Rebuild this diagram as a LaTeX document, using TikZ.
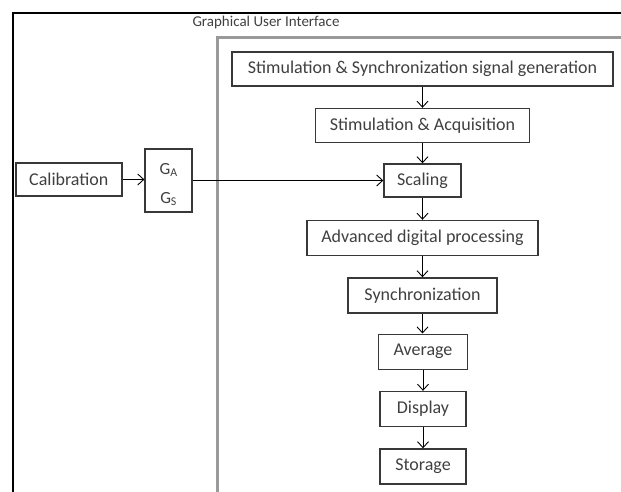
\documentclass[tikz,border=0pt]{standalone}
\usepackage{fontspec}
\setmainfont{Carlito}
\usetikzlibrary{arrows.meta}
\definecolor{boxline}{HTML}{383838}
\definecolor{guigray}{HTML}{9A9A9A}
\definecolor{txt}{HTML}{404040}
\tikzset{
  blk/.style={draw=boxline, line width=1.4pt, text=txt, font=\fontsize{18}{20}\selectfont, inner sep=0pt, anchor=center},
  lbl/.style={text=txt, font=\fontsize{17}{19}\selectfont, inner sep=0pt},
  arr/.style={draw=black, line width=0.9pt, -{Straight Barb[length=6pt,width=11pt,line width=0.9pt]}}
}
\begin{document}
\begin{tikzpicture}[x=1pt,y=-1pt]
\useasboundingbox (0,0) rectangle (621,492);
\fill[white] (0,0) rectangle (621,492);
% outer frame (runs off the right and bottom edges)
\draw[black, line width=1.5pt] (13,496) -- (13,13) -- (625,13);
% GUI frame
\draw[guigray, line width=2.2pt] (217.5,496) -- (217.5,37.5) -- (625,37.5);
\node[text=txt, font=\fontsize{15}{17}\selectfont, anchor=center] (gui) at (266,23) {Graphical User Interface};
% boxes
\node[blk, minimum width=381pt, minimum height=34pt] (sig) at (422.5,69) {Stimulation \& Synchronization signal generation};
\node[blk, minimum width=214pt, minimum height=34pt] (acq) at (422.5,125.5) {Stimulation \& Acquisition};
\node[blk, minimum width=77pt, minimum height=33pt] (scal) at (422.5,180.5) {Scaling};
\node[blk, minimum width=231pt, minimum height=35pt] (adv) at (422.5,238) {Advanced digital processing};
\node[blk, minimum width=149pt, minimum height=35pt] (sync) at (422.5,295.5) {Synchronization};
\node[blk, minimum width=89pt, minimum height=35pt] (avg) at (423,351.7) {Average};
\node[blk, minimum width=86pt, minimum height=35pt] (disp) at (423,409) {Display};
\node[blk, minimum width=86pt, minimum height=35pt] (stor) at (423,466.5) {Storage};
\node[blk, minimum width=106pt, minimum height=33pt] (cal) at (68.8,179.5) {Calibration};
\node[blk, minimum width=47pt, minimum height=63pt] (g) at (168.6,180.5) {};
\node[lbl] (ga) at (168.6,170) {G\textsubscript{A}};
\node[lbl] (gs) at (168.6,199) {G\textsubscript{S}};
% connectors
\draw[arr] (sig.south -| acq.north) -- (acq.north);
\draw[arr] (acq) -- (scal);
\draw[arr] (scal) -- (adv);
\draw[arr] (adv) -- (sync);
\draw[arr] (sync.south) -- (sync.south |- avg.north);
\draw[arr] (avg) -- (disp);
\draw[arr] (disp) -- (stor);
\draw[arr] (cal.east) -- (cal.east -| g.west);
\draw[arr] (g.east |- scal.west) -- (scal.west);
\end{tikzpicture}
\end{document}
